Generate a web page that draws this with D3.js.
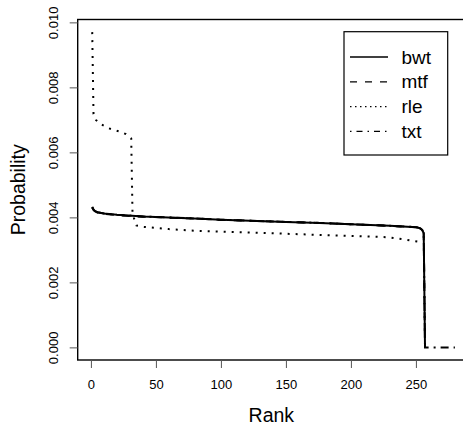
<!DOCTYPE html>
<html><head><meta charset="utf-8">
<script src="https://cdn.jsdelivr.net/npm/d3@7"></script>
<style>body{margin:0;background:#fff}svg{display:block}</style>
</head><body><svg id="c" width="463" height="429"></svg>
<script>
// Key points (rank, probability)
const bwtRanks = [1,2,3,5,10,20,40,84,100,150,176,200,230,250,253,254,255,256,257];
const bwtValues = [0.00432,0.00424,0.00420,0.00416,0.00412,0.00408,0.00403,0.00396,0.00393,0.00386,0.00383,0.00379,0.00374,0.00370,0.00367,0.00364,0.00360,0.00351,0];
const mtfRanks = [1,2,3,5,10,20,40,84,100,150,176,200,230,250,253,254,255,256,257];
const mtfValues = [0.00430,0.00423,0.00419,0.00415,0.00411,0.00407,0.00402,0.00396,0.00392,0.00386,0.00383,0.00379,0.00374,0.00370,0.00367,0.00364,0.00360,0.00351,0];
const rleRanks = [1,2,4,8,13,17,23,27,31,32,33,35,40,46,60,83,100,140,176,200,228,243,252];
const rleValues = [0.00970,0.00718,0.00699,0.00686,0.00675,0.00670,0.00663,0.00656,0.00643,0.00412,0.00399,0.00375,0.00371,0.00369,0.00364,0.00358,0.00356,0.00351,0.00346,0.00343,0.00339,0.00331,0.00325];
const txtRanks = [1,2,3,5,10,20,40,84,100,150,176,200,230,250,253,254,255,256,257,280];
const txtValues = [0.00432,0.00424,0.00420,0.00416,0.00412,0.00408,0.00403,0.00396,0.00393,0.00386,0.00383,0.00379,0.00374,0.00370,0.00367,0.00364,0.00360,0.00351,0,0];
const seriesNames = ["bwt","mtf","rle","txt"];
const xTicks = [0,50,100,150,200,250];
const yTicks = [0.000,0.002,0.004,0.006,0.008,0.010];
const xLabel = "Rank", yLabel = "Probability";

const svg = d3.select("#c");
const L = 77.7, T = 19.5, B = 360;
const xmin = 1, xmax = 280, ymin = 0, ymax = 0.0097;
const xr = (xmax-xmin)*0.04, yr = (ymax-ymin)*0.04;
const x = d3.scaleLinear().domain([xmin-xr, xmax+xr]).range([L, L + (xmax-xmin+2*xr)*1.3]);
const y = d3.scaleLinear().domain([ymin-yr, ymax+yr]).range([B, T]);
const font = "'Liberation Sans', Arial, Helvetica, sans-serif";

const series = [
  {r: bwtRanks, v: bwtValues, dash: null},
  {r: mtfRanks, v: mtfValues, dash: "8,8"},
  {r: rleRanks, v: rleValues, dash: "2,6"},
  {r: txtRanks, v: txtValues, dash: "2,5,8,5"}
];
const line = d3.line().x(d => x(d[0])).y(d => y(d[1]));
const clip = svg.append("clipPath").attr("id","pc").append("rect")
  .attr("x", L).attr("y", T).attr("width", 463-L).attr("height", B-T);
series.forEach(s => {
  svg.append("path").attr("clip-path","url(#pc)")
    .datum(s.r.map((r,i) => [r, s.v[i]]))
    .attr("d", line).attr("fill","none").attr("stroke","#000")
    .attr("stroke-width", 2).attr("stroke-dasharray", s.dash);
});

// box
svg.append("rect").attr("x", L).attr("y", T).attr("width", x.range()[1]-L).attr("height", B-T)
  .attr("fill","none").attr("stroke","#000").attr("stroke-width",1.4);

// axes
const xAxis = d3.axisBottom(x).tickValues(xTicks).tickSize(8).tickPadding(12).tickFormat(d3.format("d"));
const gx = svg.append("g").attr("transform", `translate(0,${B})`).call(xAxis);
gx.select(".domain").remove();
gx.selectAll("line").attr("stroke","#555");
gx.selectAll("text").attr("font-family", font).attr("font-size", 13).attr("fill","#000")
  .attr("dy", null).attr("y", 29);

const yAxis = d3.axisLeft(y).tickValues(yTicks).tickSize(8).tickFormat(d3.format(".3f"));
const gy = svg.append("g").attr("transform", `translate(${L},0)`).call(yAxis);
gy.select(".domain").remove();
gy.selectAll("line").attr("stroke","#555");
gy.selectAll("text").attr("font-family", font).attr("font-size", 13).attr("fill","#000")
  .attr("x", null).attr("dy", null).attr("text-anchor","middle")
  .attr("transform", "translate(-19.5,0) rotate(-90)");

svg.append("text").attr("x", (L+463)/2+1).attr("y", 422).attr("text-anchor","middle")
  .attr("font-family", font).attr("font-size", 19.5).text(xLabel);
svg.append("text").attr("transform", `translate(25,${(T+B)/2}) rotate(-90)`).attr("text-anchor","middle")
  .attr("font-family", font).attr("font-size", 19.5).text(yLabel);

// legend
const lg = svg.append("g");
lg.append("rect").attr("x", 344).attr("y", 31.7).attr("width", 103.7).attr("height", 123.3)
  .attr("fill","#fff").attr("stroke","#000").attr("stroke-width",1.2);
const legDash = [null, "7,8", "1.5,3.5", "1.5,5,6,5"];
seriesNames.forEach((n,i) => {
  const cy = 57 + 24.8*i;
  lg.append("line").attr("x1", 350).attr("x2", 388).attr("y1", cy).attr("y2", cy)
    .attr("stroke","#000").attr("stroke-width", 1.3).attr("stroke-dasharray", legDash[i]);
  lg.append("text").attr("x", 401.5).attr("y", cy + 6.5).attr("font-family", font)
    .attr("font-size", 19).text(n);
});
</script></body></html>
